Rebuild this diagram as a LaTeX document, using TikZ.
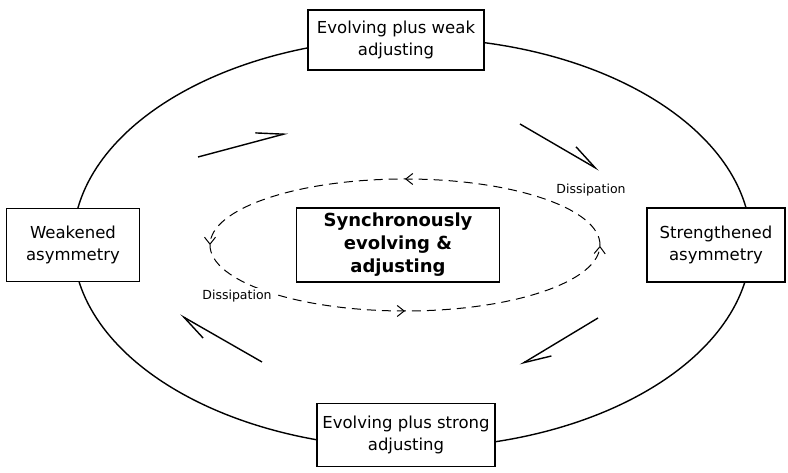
\documentclass[tikz,border=0pt]{standalone}
\usepackage{fontspec}
\setmainfont{DejaVu Sans}
\usepackage{tikz}
\usetikzlibrary{positioning, shapes, arrows.meta, decorations.markings}

\begin{document}
\begin{tikzpicture}[
    x=1pt, y=1pt,
    phase/.style={draw, line width=1.3pt, fill=white, align=center, inner sep=2pt, font=\fontsize{16.5}{22}\selectfont},
    core/.style={draw, line width=1.3pt, fill=white, align=center, font=\fontsize{18}{23}\selectfont\bfseries},
    turn/.style={line width=1.4pt, -{Straight Barb[harpoon, length=27pt, width=17pt, line width=1.4pt]}},
    dissip/.style={line width=1pt, dash pattern=on 9pt off 6pt,
        decoration={markings,
            mark=at position 0.25 with {\arrow{Straight Barb[length=7pt, width=11pt, line width=1pt]}},
            mark=at position 0.5 with {\arrow{Straight Barb[length=7pt, width=11pt, line width=1pt]}},
            mark=at position 0.75 with {\arrow{Straight Barb[length=7pt, width=11pt, line width=1pt]}},
            mark=at position 0.999 with {\arrow{Straight Barb[length=7pt, width=11pt, line width=1pt]}}},
        postaction=decorate},
    dlabel/.style={fill=white, inner sep=2pt, font=\fontsize{12.5}{15}\selectfont}
]
\useasboundingbox (0,0) rectangle (788,473);

% outer cycle
\node[draw, ellipse, line width=1.4pt, minimum width=678pt, minimum height=410pt, inner sep=0pt] (cycle) at (412,230) {};

% inner dissipation loop
\coordinate (mid) at (405,228);
\draw[dissip] (mid) ellipse [x radius=195, y radius=66];
\node[dlabel] (diss1) at (591,283) {Dissipation};
\node[dlabel] (diss2) at (237,177) {Dissipation};

\node[phase, minimum width=176pt, minimum height=60pt] (weak) at (396,433) {Evolving plus weak\\adjusting};
\node[phase, minimum width=138pt, minimum height=74pt] (strong_asym) at (716,228) {Strengthened\\asymmetry};
\node[phase, minimum width=178pt, minimum height=63pt] (strong) at (406,38) {Evolving plus strong\\adjusting};
\node[phase, minimum width=133pt, minimum height=73pt] (weak_asym) at (73,228) {Weakened\\asymmetry};
\node[core, minimum width=203pt, minimum height=74pt] (sync) at (398,228) {Synchronously\\evolving \&\\adjusting};

% direction of the cycle
\coordinate (t1a) at (198,316); \coordinate (t1b) at (288,340);
\coordinate (t2a) at (520,349); \coordinate (t2b) at (599,303);
\coordinate (t3a) at (598,155); \coordinate (t3b) at (520,108);
\coordinate (t4a) at (262,111); \coordinate (t4b) at (180,158);
\draw[turn] (t1a) -- (t1b);
\draw[turn] (t2a) -- (t2b);
\draw[turn] (t3a) -- (t3b);
\draw[turn] (t4a) -- (t4b);
\end{tikzpicture}
\end{document}
